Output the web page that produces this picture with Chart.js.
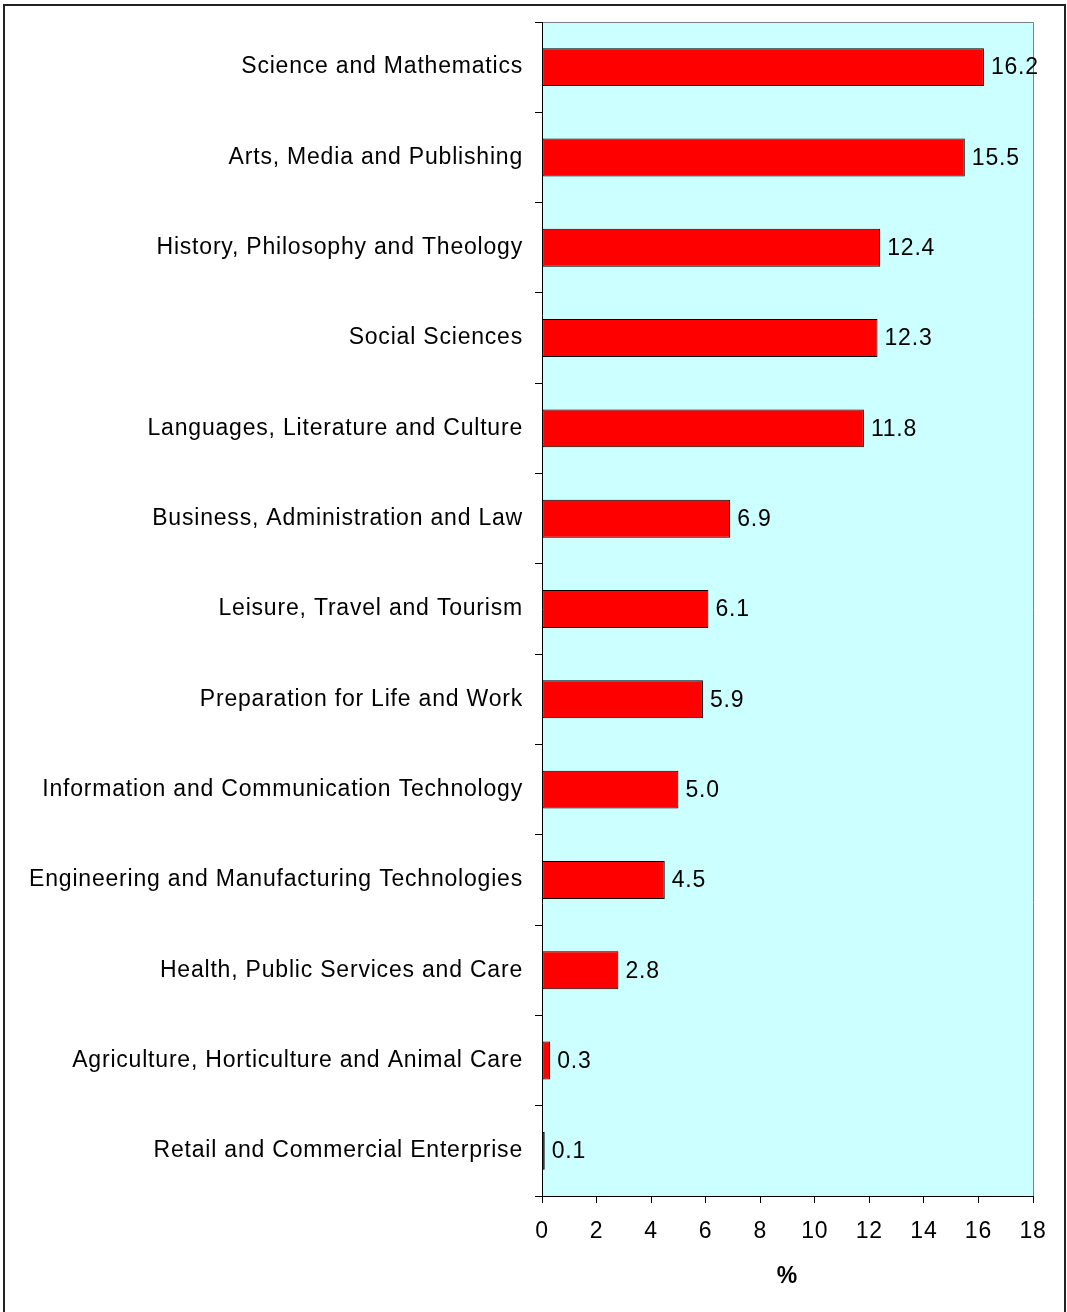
<!DOCTYPE html>
<html>
<head>
<meta charset="utf-8">
<script src="https://cdn.jsdelivr.net/npm/chart.js@4/dist/chart.umd.min.js"></script>
<style>
  html, body { margin: 0; padding: 0; background: #fff; }
  #wrap { position: relative; width: 1067px; height: 1312px; overflow: hidden; }
  #frame { position: absolute; left: 3px; top: 4px; width: 1059px; height: 1400px; border: 2px solid #222; pointer-events: none; }
  canvas { position: absolute; left: 0; top: 0; }
</style>
</head>
<body>
<div id="wrap">
  <canvas id="c" width="1067" height="1312"></canvas>
  <div id="frame"></div>
</div>
<script>
const categories = [
  "Science and Mathematics",
  "Arts, Media and Publishing",
  "History, Philosophy and Theology",
  "Social Sciences",
  "Languages, Literature and Culture",
  "Business, Administration and Law",
  "Leisure, Travel and Tourism",
  "Preparation for Life and Work",
  "Information and Communication Technology",
  "Engineering and Manufacturing Technologies",
  "Health, Public Services and Care",
  "Agriculture, Horticulture and Animal Care",
  "Retail and Commercial Enterprise"
];
const values = [16.2, 15.5, 12.4, 12.3, 11.8, 6.9, 6.1, 5.9, 5.0, 4.5, 2.8, 0.3, 0.1];
const xTicks = [0, 2, 4, 6, 8, 10, 12, 14, 16, 18];
const axisTitle = "%";

Chart.defaults.font.family = "'Liberation Sans', Arial, sans-serif";
Chart.defaults.font.size = 23;
Chart.defaults.color = "#000";

const plotBg = {
  id: 'plotBg',
  beforeDraw(chart) {
    const {ctx, chartArea: a} = chart;
    ctx.letterSpacing = '0.8px';
    ctx.save();
    ctx.fillStyle = '#CCFFFF';
    ctx.fillRect(a.left, a.top, a.right - a.left, a.bottom - a.top);
    ctx.strokeStyle = '#808080';
    ctx.lineWidth = 1;
    ctx.beginPath();
    ctx.moveTo(a.left, a.top + 0.5);
    ctx.lineTo(a.right + 0.5, a.top + 0.5);
    ctx.lineTo(a.right + 0.5, a.bottom);
    ctx.stroke();
    ctx.restore();
  }
};

const valueLabels = {
  id: 'valueLabels',
  afterDatasetsDraw(chart) {
    const {ctx} = chart;
    const meta = chart.getDatasetMeta(0);
    ctx.save();
    ctx.font = "23px 'Liberation Sans', Arial, sans-serif";
    ctx.letterSpacing = '0.8px';
    ctx.fillStyle = '#000';
    ctx.textBaseline = 'middle';
    ctx.textAlign = 'left';
    meta.data.forEach((bar, i) => {
      ctx.fillText(values[i].toFixed(1), bar.x + 7, bar.y + 1);
    });
    ctx.restore();
  }
};

new Chart(document.getElementById('c'), {
  type: 'bar',
  data: {
    labels: categories,
    datasets: [{
      data: values,
      backgroundColor: '#FF0000',
      borderColor: '#000',
      borderWidth: 1,
      borderSkipped: false,
      barPercentage: 0.42,
      categoryPercentage: 1.0
    }]
  },
  options: {
    indexAxis: 'y',
    responsive: false,
    animation: false,
    devicePixelRatio: 1,
    layout: { padding: { left: 0, right: 34, top: 22, bottom: 0 } },
    plugins: { legend: { display: false }, tooltip: { enabled: false } },
    scales: {
      y: {
        type: 'category',
        afterFit(scale) { scale.width = 542; scale.paddingTop = 0; scale.paddingBottom = 0; },
        grid: { drawOnChartArea: false, drawTicks: true, tickLength: 7, color: '#000', offset: true },
        border: { display: true, color: '#000', width: 1 },
        ticks: { padding: 12, color: '#000', font: { size: 23 } }
      },
      x: {
        type: 'linear',
        min: 0,
        max: 18,
        afterFit(scale) { scale.height = 116; },
        afterBuildTicks(scale) { scale.ticks = xTicks.map(v => ({ value: v })); },
        grid: { drawOnChartArea: false, drawTicks: true, tickLength: 7, color: '#000' },
        border: { display: true, color: '#000', width: 1 },
        ticks: { padding: 15, color: '#000', font: { size: 23 }, maxRotation: 0, autoSkip: false },
        title: { display: true, text: axisTitle, font: { size: 23, weight: 'bold' }, padding: { top: 4, bottom: 22 } }
      }
    }
  },
  plugins: [plotBg, valueLabels]
});
</script>
</body>
</html>
